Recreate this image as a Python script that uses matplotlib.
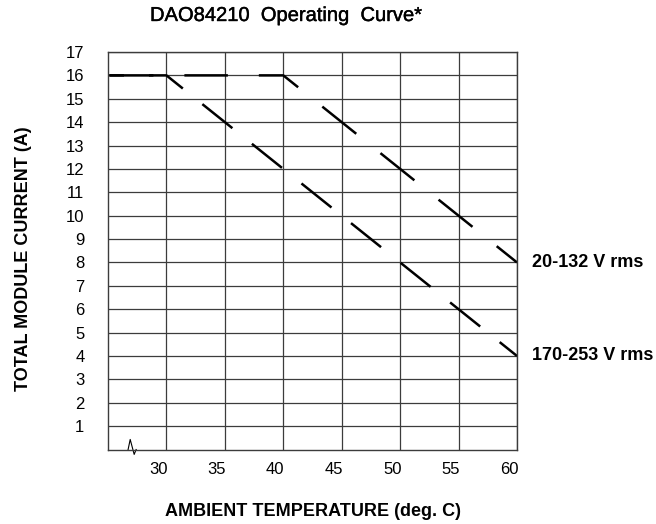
#!/usr/bin/env python

import matplotlib
matplotlib.use('Agg')
import matplotlib.pyplot as plt
import matplotlib.transforms as mtransforms
import matplotlib.patheffects as pe

plt.rcParams['font.family']        = ['Liberation Sans', 'DejaVu Sans']
plt.rcParams['lines.scale_dashes'] = False

DPI        = 100
GRID       = '#3c3c3c'
TICK_SIZE  = 12
LABEL_SIZE = 13

# ambient temperature (deg. C) -> total module current (A)
temp_low  = [25, 40, 60]      # 20-132 V rms
curr_low  = [16, 16, 8]
temp_high = [25, 30, 60]      # 170-253 V rms
curr_high = [16, 16, 4]

series_labels = ['20-132 V rms', '170-253 V rms']

x_ticks = [30, 35, 40, 45, 50, 55, 60]
y_ticks = list(range(1, 18))

# axis break mark near the origin
break_x = [26.72, 26.9, 27.24, 27.41]
break_y = [0.0, 0.43, -0.21, 0.0]


fig = plt.figure(figsize=(656 / DPI, 524 / DPI), dpi=DPI)
ax  = fig.add_axes([108 / 656, (524 - 449.5) / 524, 409 / 656, 397.5 / 524])

ax.set_xlim(25, 60)
ax.set_ylim(0, 17)
ax.set_xticks(x_ticks)
ax.set_yticks(y_ticks)
ax.tick_params(length=0, labelsize=TICK_SIZE)
ax.tick_params(axis='x', pad=9)
ax.tick_params(axis='y', pad=17)
ax.grid(True, color=GRID, linewidth=0.9)
ax.set_axisbelow(True)
for spine in ax.spines.values():
    spine.set_color(GRID)
    spine.set_linewidth(1.0)

# x tick labels sit a little left of their grid lines
shift = mtransforms.ScaledTranslation(-8 / DPI, 0, fig.dpi_scale_trans)
for label in ax.get_xticklabels():
    label.set_transform(label.get_transform() + shift)

# dashed operating curves (offset, (on, off)) in points
ax.plot(temp_low, curr_low, color='black', linewidth=1.8,
        linestyle=(52.2, (31.3, 22.3)), dash_capstyle='butt', clip_on=False)
ax.plot(temp_high, curr_high, color='black', linewidth=1.8,
        linestyle=(16.2, (27.7, 18.0)), dash_capstyle='butt', clip_on=False)

for temps, currs, text in [(temp_low, curr_low, series_labels[0]),
                           (temp_high, curr_high, series_labels[1])]:
    ax.annotate(text, xy=(temps[-1], currs[-1]), xytext=(11, 0),
                textcoords='offset points', va='center', ha='left',
                fontsize=LABEL_SIZE, fontweight='bold', annotation_clip=False)

ax.plot(break_x, break_y, color='black', linewidth=0.8, clip_on=False)

ax.set_xlabel('AMBIENT TEMPERATURE (deg. C)', fontsize=LABEL_SIZE, fontweight='bold', va='center')
ax.xaxis.set_label_coords(0.5, (449.5 - 511) / 397.5)
ax.set_ylabel('TOTAL MODULE CURRENT (A)', fontsize=LABEL_SIZE, fontweight='bold', va='center')
ax.yaxis.set_label_coords((24 - 108) / 409, (449.5 - 259) / 397.5)

# title: regular face, slightly thickened
fig.text(150 / 656, 1 - 21 / 524, 'DAO84210  Operating  Curve*', fontsize=14.5,
         ha='left', va='baseline',
         path_effects=[pe.withStroke(linewidth=0.3, foreground='black')])

fig.savefig('out.png', dpi=DPI)
